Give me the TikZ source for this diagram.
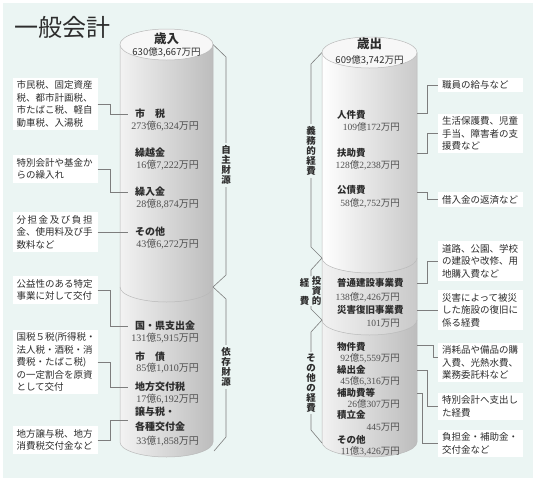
\documentclass[tikz,border=0pt]{standalone}
\usepackage{fontspec}
\setmainfont{Noto Sans CJK JP}
\newfontfamily\numf{Liberation Serif}
\usetikzlibrary{calc}
\definecolor{bg}{RGB}{235,245,243}
\definecolor{ln}{RGB}{125,125,125}
\definecolor{tx}{RGB}{45,45,45}
\definecolor{nx}{RGB}{80,80,80}
\newcommand{\oku}[2]{{\numf #1}億{\numf #2}万円}
\newcommand{\man}[1]{{\numf #1}万円}
\begin{document}
\begin{tikzpicture}[x=1pt,y=-1pt,
 box/.style={fill=white, text=tx, font=\fontsize{9.5}{12.5}\selectfont, text width=77pt, inner xsep=4pt, inner ysep=3pt, align=left},
 con/.style={draw=ln, line width=0.6pt},
 lab/.style={anchor=west, text=tx, font=\fontsize{10}{12}\selectfont\bfseries, inner sep=0pt},
 rlab/.style={anchor=west, text=tx, font=\fontsize{9.5}{12}\selectfont\bfseries, inner sep=0pt},
 num/.style={anchor=east, text=nx, font=\fontsize{10}{12}\selectfont, inner sep=0pt},
 rnum/.style={anchor=east, text=nx, font=\fontsize{9.5}{12}\selectfont, inner sep=0pt},
 vlab/.style={fill=bg, text=tx, align=center, font=\fontsize{9.5}{10}\selectfont\bfseries, inner xsep=1pt, inner ysep=2pt},
 vch/.style={text=tx, font=\fontsize{9.5}{10}\selectfont\bfseries, inner sep=0pt},
 edgeln/.style={draw=gray!55, line width=0.5pt},
 cylshade/.style={left color=gray!10, middle color=gray!22, right color=gray!52}]

\useasboundingbox (0,0) rectangle (536,483);
\fill[white] (0,0) rectangle (536,483);
\fill[bg] (3,3) rectangle (533,478);

% title
\node[anchor=west, text=tx, font=\fontsize{24}{25}\selectfont, inner sep=0pt] (title) at (14,27) {一般会計};

% ---------- left cylinder ----------
\shade[cylshade] (120,44.5) -- (120,442) arc[start angle=180,end angle=360,x radius=46.5pt,y radius=15pt] -- (213,44.5) -- cycle;
\draw[edgeln] (120,44.5) -- (120,442) arc[start angle=180,end angle=360,x radius=46.5pt,y radius=15pt] -- (213,44.5);
\draw[edgeln] (120,287) arc[start angle=180,end angle=360,x radius=46.5pt,y radius=15pt];
\draw[edgeln, fill=gray!6] (166.5,44.5) ellipse[x radius=46.5pt, y radius=15.5pt];
\node[text=tx, font=\fontsize{12.5}{13}\selectfont\bfseries, inner sep=0pt] (inhd) at (166.5,38.5) {歳入};
\node[text=tx, font=\fontsize{9.5}{10}\selectfont, inner sep=0pt] (inamt) at (166.5,52.5) {630億3,667万円};

% ---------- right cylinder ----------
\shade[left color=white, middle color=gray!6, right color=gray!42] (322,52.5) -- (322,258) arc[start angle=180,end angle=360,x radius=47.5pt,y radius=15pt] -- (417,52.5) -- cycle;
\shade[left color=gray!10, middle color=gray!14, right color=gray!42] (322,258) arc[start angle=180,end angle=360,x radius=47.5pt,y radius=15pt] -- (417,320) arc[start angle=0,end angle=-180,x radius=47.5pt,y radius=15pt] -- cycle;
\shade[cylshade] (322,320) arc[start angle=180,end angle=360,x radius=47.5pt,y radius=15pt] -- (417,442) arc[start angle=0,end angle=-180,x radius=47.5pt,y radius=15pt] -- cycle;
\draw[edgeln] (322,52.5) -- (322,442) arc[start angle=180,end angle=360,x radius=47.5pt,y radius=15pt] -- (417,52.5);
\draw[edgeln] (322,258) arc[start angle=180,end angle=360,x radius=47.5pt,y radius=15pt];
\draw[edgeln] (322,320) arc[start angle=180,end angle=360,x radius=47.5pt,y radius=15pt];
\draw[edgeln, fill=gray!6] (369.5,52.5) ellipse[x radius=47.5pt, y radius=15.5pt];
\node[text=tx, font=\fontsize{12.5}{13}\selectfont\bfseries, inner sep=0pt] (outhd) at (369.5,44) {歳出};
\node[text=tx, font=\fontsize{9.5}{10}\selectfont, inner sep=0pt] (outamt) at (369.5,60) {609億3,742万円};

% ---------- left cylinder labels ----------
\node[lab] (zei) at (135,114) {市　税};
\node[num] (zein) at (199,126.5) {\oku{273}{6,324}};
\node[lab] (kurikoshi) at (135,153) {繰越金};
\node[num] (kurikoshin) at (199,165) {\oku{16}{7,222}};
\node[lab] (kurii) at (135,192) {繰入金};
\node[num] (kuriin) at (199,204) {\oku{28}{8,874}};
\node[lab] (sono1) at (135,232) {その他};
\node[num] (sono1n) at (199,244) {\oku{43}{6,272}};
\node[lab] (kokuken) at (135,326) {国・県支出金};
\node[num] (kokukenn) at (199,338) {\oku{131}{5,915}};
\node[lab] (shisai) at (135,357) {市　債};
\node[num] (shisain) at (199,368.5) {\oku{85}{1,010}};
\node[lab] (chiko) at (135,387) {地方交付税};
\node[num] (chikon) at (199,399) {\oku{17}{6,192}};
\node[lab] (joyo) at (135,412) {譲与税・};
\node[lab] (kakushu) at (135,427) {各種交付金};
\node[num] (joyon) at (199,441) {\oku{33}{1,858}};

% ---------- right cylinder labels ----------
\node[rlab] (jinken) at (337,115) {人件費};
\node[rnum] (jinkenn) at (400,127) {\oku{109}{172}};
\node[rlab] (fujo) at (337,153) {扶助費};
\node[rnum] (fujon) at (400,165) {\oku{128}{2,238}};
\node[rlab] (kosai) at (337,190) {公債費};
\node[rnum] (kosain) at (400,203) {\oku{58}{2,752}};
\node[rlab] (futsu) at (337,283) {普通建設事業費};
\node[rnum] (futsun) at (400,297) {\oku{138}{2,426}};
\node[rlab] (saigai) at (337,310) {災害復旧事業費};
\node[rnum] (saigain) at (400,323) {\man{101}};
\node[rlab] (bukken) at (337,347) {物件費};
\node[rnum] (bukkenn) at (400,358) {\oku{92}{5,559}};
\node[rlab] (kuridashi) at (337,370) {繰出金};
\node[rnum] (kuridashin) at (400,381) {\oku{45}{6,316}};
\node[rlab] (hojo) at (337,393) {補助費等};
\node[rnum] (hojon) at (400,404) {\oku{26}{307}};
\node[rlab] (tsumi) at (337,415) {積立金};
\node[rnum] (tsumin) at (400,427) {\man{445}};
\node[rlab] (sono2) at (337,440) {その他};
\node[rnum] (sono2n) at (400,451) {\oku{11}{3,426}};

% ---------- brackets ----------
\draw[con] (213,44.5) -- (226,57) -- (226,275) -- (213,287);
\node[vlab] (jishu) at (226,165) {自\\主\\財\\源};
\draw[con] (213,287) -- (226,299) -- (226,437) -- (214,451);
\node[vlab] (izon) at (226,367) {依\\存\\財\\源};

\draw[con] (322,52.5) -- (311,64) -- (311,247) -- (322,258);
\node[vlab] (gimu) at (311,151) {義\\務\\的\\経\\費};
\draw[con] (322,258) -- (311,270) -- (311,276);
\draw[con] (311,306) -- (311,309) -- (322,320);
\node[vch] (t1) at (316.5,281) {投};
\node[vch] (t2) at (316.5,291) {資};
\node[vch] (t3) at (316.5,301) {的};
\node[vch] (k1) at (304.5,283) {経};
\node[vch] (k2) at (304.5,301) {費};
\draw[con] (322,320) -- (311,332) -- (311,430) -- (322,443);
\node[vlab] (sonotakei) at (311,383) {そ\\の\\他\\の\\経\\費};

% ---------- left boxes ----------
\node[box] (lb1) at (55,104) {市民税、固定資産\\税、都市計画税、\\市たばこ税、軽自\\動車税、入湯税};
\node[box] (lb2) at (55,169) {特別会計や基金か\\らの繰入れ};
\node[box] (lb3) at (55,232) {\makebox[76pt][s]{分\hfill 担\hfill 金\hfill 及\hfill び\hfill 負\hfill 担}\\金、使用料及び手\\数料など};
\node[box] (lb4) at (55,290) {公益性のある特定\\事業に対して交付};
\node[box] (lb5) at (55,362) {国税５税(所得税・\\法人税・酒税・消\\費税・たばこ税)\\の一定割合を原資\\として交付};
\node[box] (lb6) at (55,440) {地方譲与税、地方\\消費税交付金など};

\coordinate (e1) at (128,114);
\coordinate (e2) at (128,192);
\coordinate (e3) at (128,232);
\coordinate (e4) at (128,326);
\coordinate (e5) at (128,387);
\coordinate (e6) at (128,420);
\draw[con] (lb1.east) -- ++(13,0) |- (e1);
\draw[con] (lb2.east) -- ++(13,0) |- (e2);
\draw[con] (lb3.east) -- (e3);
\draw[con] (lb4.east) -- ++(13,0) |- (e4);
\draw[con] (lb5.east) -- ++(13,0) |- (e5);
\draw[con] (lb6.east) -- ++(13,0) |- (e6);

% ---------- right boxes ----------
\node[box] (rb1) at (480.5,85) {職員の給与など};
\node[box] (rb2) at (480.5,133.5) {生活保護費、児童\\手当、障害者の支\\援費など};
\node[box] (rb3) at (480.5,199.5) {借入金の返済など};
\node[box] (rb4) at (480.5,261) {道路、公園、学校\\の建設や改修、用\\地購入費など};
\node[box] (rb5) at (480.5,310) {災害によって被災\\した施設の復旧に\\係る経費};
\node[box] (rb6) at (480.5,362.5) {消耗品や備品の購\\入費、光熱水費、\\業務委託料など};
\node[box] (rb7) at (480.5,406.5) {特別会計へ支出し\\た経費};
\node[box] (rb8) at (480.5,443.5) {負担金・補助金・\\交付金など};

\coordinate (f1) at (417,113);
\coordinate (f2) at (417,153);
\coordinate (f3) at (417,192);
\coordinate (f4) at (417,283);
\coordinate (f5) at (417,310);
\coordinate (f6) at (417,345);
\coordinate (f7) at (417,370);
\coordinate (f8) at (417,393);
\draw[con] (rb1.west) -- ++(-11,0) |- (f1);
\draw[con] (rb2.west) -- ++(-11,0) |- (f2);
\draw[con] (rb3.west) -- ++(-11,0) |- (f3);
\draw[con] (rb4.west) -- ++(-11,0) |- (f4);
\draw[con] (rb5.west) -- (f5);
\draw[con] ($(rb6.west)+(0,-5)$) -- ++(-5,0) |- (f6);
\draw[con] (rb7.west) -- ++(-11,0) |- (f7);
\draw[con] (rb8.west) -- ++(-16,0) |- (f8);
\end{tikzpicture}
\end{document}
